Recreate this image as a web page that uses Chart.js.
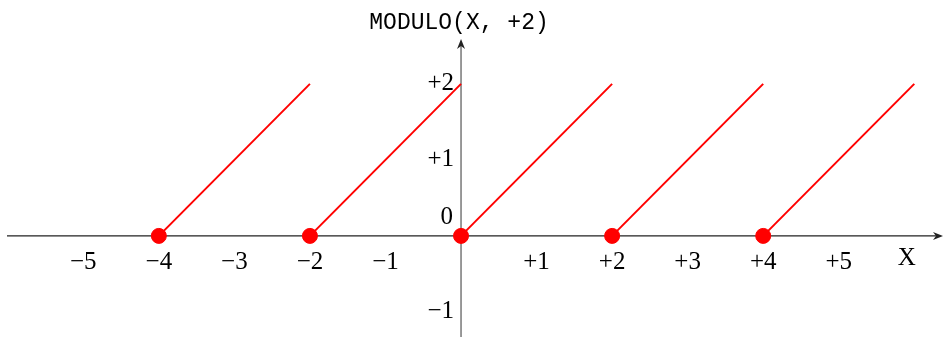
<!DOCTYPE html>
<html>
<head>
<meta charset="utf-8">
<script src="https://cdn.jsdelivr.net/npm/chart.js@4/dist/chart.umd.min.js"></script>
<style>
  html, body { margin: 0; padding: 0; background: #fff; overflow: hidden; }
  canvas { display: block; }
</style>
</head>
<body>
<canvas id="modChart" width="943" height="337"></canvas>
<script>
// sawtooth segments of MODULO(X, +2)
const segStartX = [-4, -2, 0, 2, 4];
const segStartY = [0, 0, 0, 0, 0];
const segEndX = [-2, 0, 2, 4, 6];
const segEndY = [2, 2, 2, 2, 2];

// filled dots at the start of each segment
const dotX = [-4, -2, 0, 2, 4];
const dotY = [0, 0, 0, 0, 0];

const xTicks = [-5, -4, -3, -2, -1, 1, 2, 3, 4, 5];
const yTicks = [-1, 1, 2];
const title = 'MODULO(X, +2)';
const xName = 'X';

const fmt = v => v > 0 ? '+' + v : (v < 0 ? '\u2212' + Math.abs(v) : '0');

const datasets = segStartX.map((x0, i) => ({
    type: 'line',
    data: [{ x: x0, y: segStartY[i] }, { x: segEndX[i], y: segEndY[i] }],
    borderColor: '#ff0000',
    borderWidth: 2,
    pointRadius: 0,
    fill: false
}));

datasets.push({
    type: 'scatter',
    data: dotX.map((x, i) => ({ x: x, y: dotY[i] })),
    backgroundColor: '#ff0000',
    borderColor: '#ff0000',
    pointRadius: 7.5,
    pointHoverRadius: 7.5
});

const axesPlugin = {
    id: 'axes',
    beforeDatasetsDraw(chart) {
        const ctx = chart.ctx;
        const xs = chart.scales.x, ys = chart.scales.y;
        const area = chart.chartArea;
        const ox = xs.getPixelForValue(0);
        const oy = ys.getPixelForValue(0);
        ctx.save();

        // x axis
        ctx.strokeStyle = '#222';
        ctx.lineWidth = 1.2;
        ctx.beginPath();
        ctx.moveTo(area.left, oy);
        ctx.lineTo(area.right - 4, oy);
        ctx.stroke();
        ctx.fillStyle = '#222';
        ctx.beginPath();
        ctx.moveTo(area.right, oy);
        ctx.lineTo(area.right - 10, oy - 4);
        ctx.lineTo(area.right - 7, oy);
        ctx.lineTo(area.right - 10, oy + 4);
        ctx.closePath();
        ctx.fill();

        // y axis
        ctx.strokeStyle = '#555';
        ctx.beginPath();
        ctx.moveTo(ox, area.bottom);
        ctx.lineTo(ox, area.top + 4);
        ctx.stroke();
        ctx.fillStyle = '#222';
        ctx.beginPath();
        ctx.moveTo(ox, area.top);
        ctx.lineTo(ox - 4, area.top + 10);
        ctx.lineTo(ox, area.top + 7);
        ctx.lineTo(ox + 4, area.top + 10);
        ctx.closePath();
        ctx.fill();

        // tick labels
        ctx.fillStyle = '#000';
        ctx.font = '25px "Liberation Serif"';
        ctx.textAlign = 'center';
        ctx.textBaseline = 'middle';
        xTicks.forEach(v => {
            ctx.fillText(fmt(v), xs.getPixelForValue(v), oy + 27);
        });
        ctx.fillText(xName, xs.getPixelForValue(5.9), oy + 23);

        ctx.textAlign = 'right';
        yTicks.forEach(v => {
            ctx.fillText(fmt(v), ox - 7, ys.getPixelForValue(v));
        });
        ctx.fillText('0', ox - 8, oy - 18);

        // title above the y axis
        ctx.textAlign = 'center';
        ctx.font = '23px "Liberation Mono"';
        ctx.fillText(title, ox - 2, 23);
        ctx.restore();
    }
};

new Chart(document.getElementById('modChart').getContext('2d'), {
    data: { datasets: datasets },
    options: {
        responsive: false,
        animation: false,
        devicePixelRatio: 1,
        layout: { autoPadding: false, padding: { left: 7, right: 0, top: 39, bottom: 0 } },
        plugins: {
            legend: { display: false },
            tooltip: { enabled: false },
            title: { display: false }
        },
        scales: {
            x: { type: 'linear', min: -6.01, max: 6.38, display: false },
            y: { type: 'linear', min: -1.33, max: 2.59, display: false }
        }
    },
    plugins: [axesPlugin]
});
</script>
</body>
</html>
